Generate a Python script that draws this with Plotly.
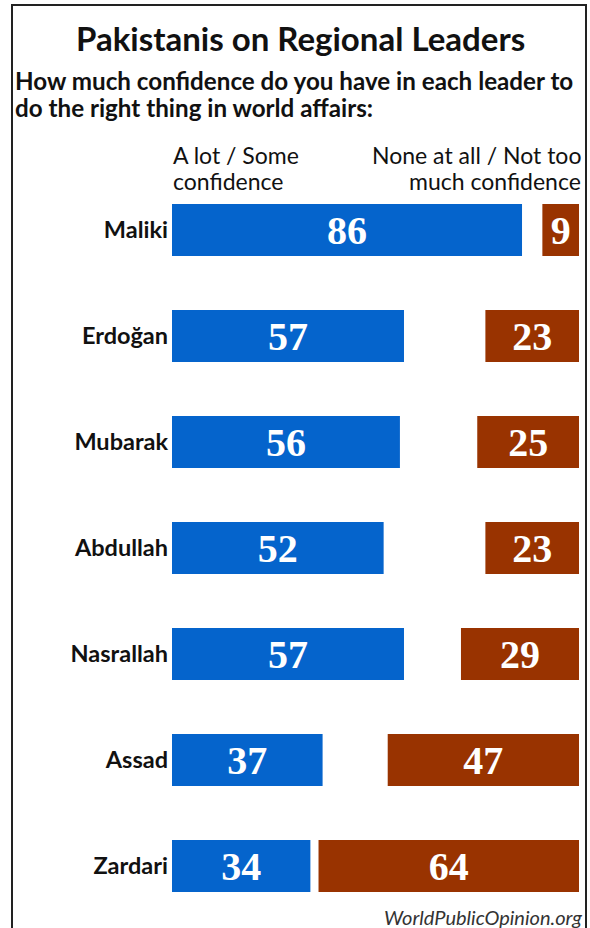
import plotly.graph_objects as go

# Survey results: confidence in regional leaders among Pakistanis (percent)
leaders = ["Maliki", "Erdoğan", "Mubarak", "Abdullah", "Nasrallah", "Assad", "Zardari"]
confident = [86, 57, 56, 52, 57, 37, 34]       # A lot / Some confidence
not_confident = [9, 23, 25, 23, 29, 47, 64]    # None at all / Not too much confidence

BLUE = "#0564CC"
RUST = "#993300"
SANS = "Lato"
SERIF = "Liberation Serif"

W, H = 590, 928
ML, MR, MT, MB = 172, 11, 177, 9
PW, PH = W - ML - MR, H - MT - MB


def px(x):
    """Horizontal pixel -> paper coordinate."""
    return (x - ML) / PW


def py(y):
    """Vertical pixel (from top) -> paper coordinate."""
    return (H - MB - y) / PH


fig = go.Figure()

fig.add_trace(go.Bar(
    y=leaders, x=confident, base=[0] * len(confident), orientation="h",
    marker=dict(color=BLUE, line=dict(width=0)), width=0.49,
    text=[str(v) for v in confident], textposition="inside",
    insidetextanchor="middle", constraintext="none",
    textfont=dict(family=SERIF, size=40, color="white", weight="bold"),
    hoverinfo="skip",
))

# Negative responses are anchored to the right end of the 0-100 scale
fig.add_trace(go.Bar(
    y=leaders, x=not_confident, base=[100 - v for v in not_confident],
    orientation="h",
    marker=dict(color=RUST, line=dict(width=0)), width=0.49,
    text=[str(v) for v in not_confident], textposition="inside",
    insidetextanchor="middle", constraintext="none",
    textfont=dict(family=SERIF, size=40, color="white", weight="bold"),
    hoverinfo="skip",
))

annotations = [
    dict(text="Pakistanis on Regional Leaders", x=px(300), y=py(38),
         xanchor="center", yanchor="middle",
         font=dict(family=SANS, size=33, color="#111", weight="bold")),
    dict(text="How much confidence do you have in each leader to", x=px(13), y=py(80),
         xanchor="left", yanchor="middle",
         font=dict(family=SANS, size=24.2, color="#111", weight="bold")),
    dict(text="do the right thing in world affairs:", x=px(13), y=py(107),
         xanchor="left", yanchor="middle",
         font=dict(family=SANS, size=24.2, color="#111", weight="bold")),
    dict(text="A lot / Some", x=px(171), y=py(155), xanchor="left", yanchor="middle",
         font=dict(family=SANS, size=23, color="#111")),
    dict(text="confidence", x=px(171), y=py(181), xanchor="left", yanchor="middle",
         font=dict(family=SANS, size=23, color="#111")),
    dict(text="None at all / Not too", x=px(583), y=py(155), xanchor="right", yanchor="middle",
         font=dict(family=SANS, size=23, color="#111")),
    dict(text="much confidence", x=px(583), y=py(181), xanchor="right", yanchor="middle",
         font=dict(family=SANS, size=23, color="#111")),
    dict(text="WorldPublicOpinion.org", x=px(584), y=py(917), xanchor="right", yanchor="middle",
         font=dict(family=SANS, size=20, color="#333", style="italic")),
]
for a in annotations:
    a.update(xref="paper", yref="paper", showarrow=False)

fig.update_layout(
    width=W, height=H,
    margin=dict(l=ML, r=MR, t=MT, b=MB, pad=0),
    paper_bgcolor="white", plot_bgcolor="white",
    barmode="overlay", showlegend=False, hovermode=False,
    annotations=annotations,
    shapes=[dict(type="rect", xref="paper", yref="paper",
                 x0=px(12), x1=px(586), y0=py(940), y1=py(5),
                 line=dict(color="#222", width=2), fillcolor="rgba(0,0,0,0)",
                 layer="below")],
    xaxis=dict(range=[0, 100], visible=False, fixedrange=True),
    yaxis=dict(type="category", categoryorder="array", categoryarray=leaders,
               autorange="reversed", showgrid=False, zeroline=False,
               showline=False, ticks="", ticklabelstandoff=3,
               tickfont=dict(family=SANS, size=23.5, color="#111", weight="bold"),
               fixedrange=True),
)

fig.write_html("out.html")
